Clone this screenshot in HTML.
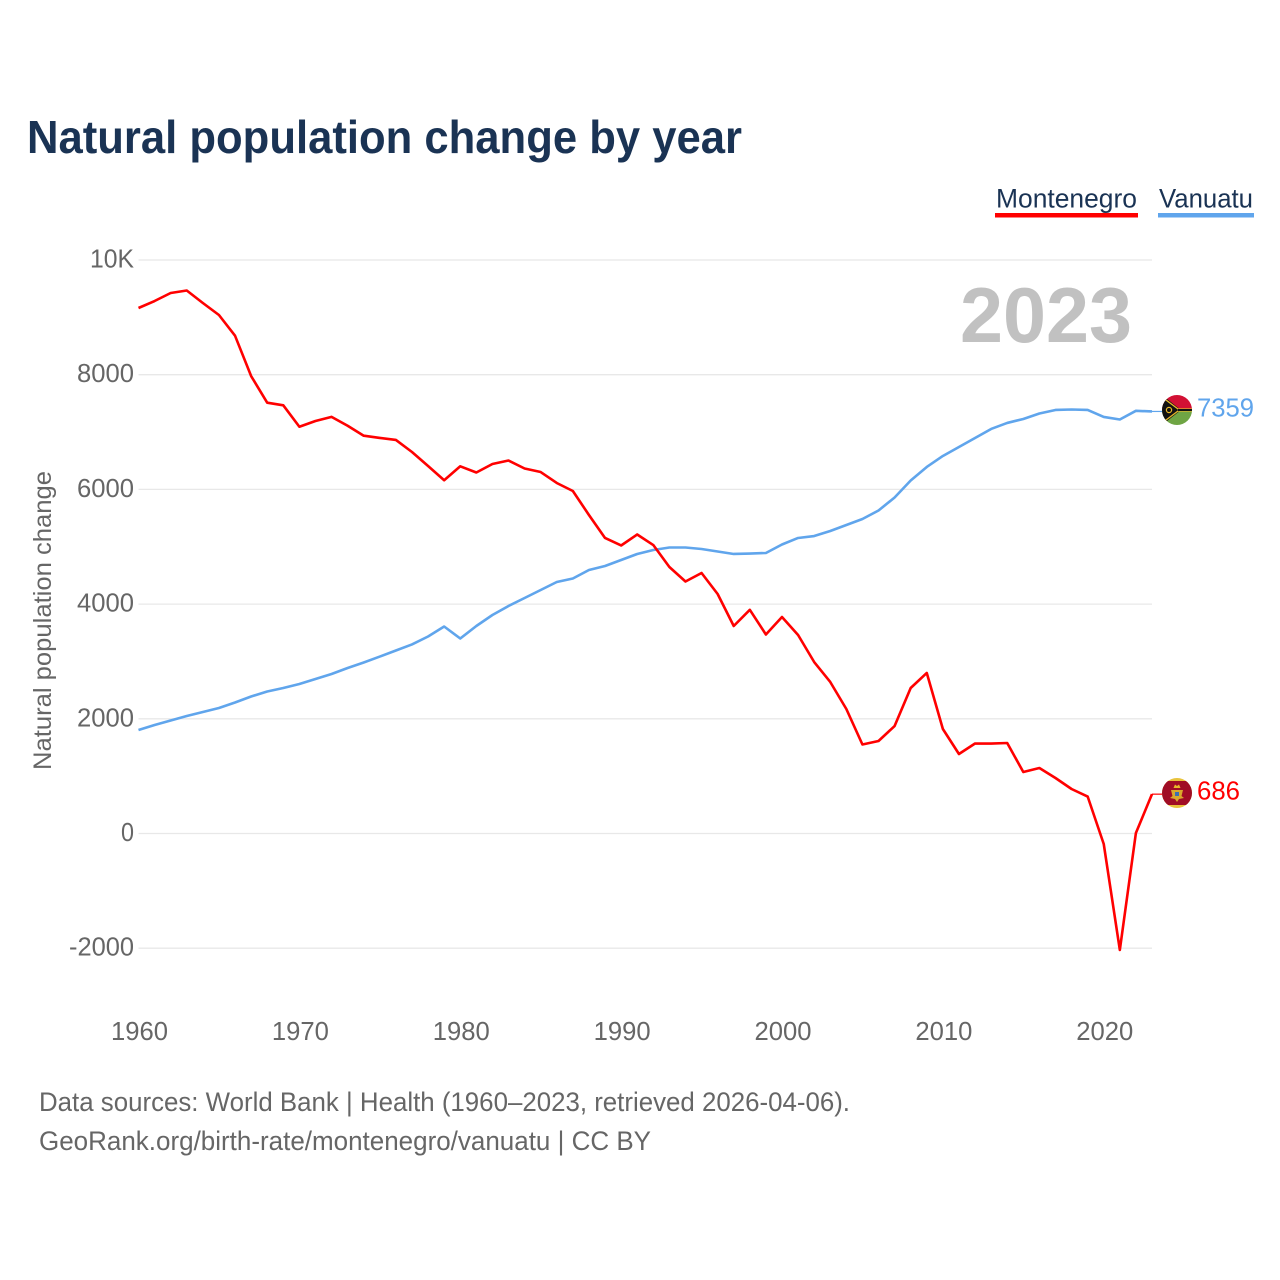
<!DOCTYPE html>
<html lang="en">
<head>
<meta charset="utf-8">
<title>Natural population change by year</title>
<style>
html,body{margin:0;padding:0;background:#fff;}
svg{display:block;}
text{font-family:"Liberation Sans",sans-serif;}
</style>
</head>
<body>
<svg id="chart" xmlns="http://www.w3.org/2000/svg" width="1280" height="1280" viewBox="0 0 1280 1280">
  <rect width="1280" height="1280" fill="#fff"/>
  <text x="27" y="153" font-size="46" font-weight="700" fill="#1a3354" textLength="715" lengthAdjust="spacingAndGlyphs">Natural population change by year</text>

  <g>
    <text x="996" y="207.5" font-size="27" fill="#1a3354" textLength="141" lengthAdjust="spacingAndGlyphs">Montenegro</text>
    <rect x="995" y="213" width="143" height="4.5" fill="#ff0000"/>
    <text x="1159" y="207.5" font-size="27" fill="#1a3354" textLength="94" lengthAdjust="spacingAndGlyphs">Vanuatu</text>
    <rect x="1158" y="213" width="96" height="4.5" fill="#60a5ec"/>
  </g>

  <g id="grid"></g>
  <g id="yticks"></g>
  <g id="xticks"></g>

  <text transform="translate(51,620.5) rotate(-90)" text-anchor="middle" font-size="25" fill="#666" textLength="299" lengthAdjust="spacingAndGlyphs">Natural population change</text>
  <text x="960" y="342" font-size="78" font-weight="700" fill="#c1c1c1" textLength="172" lengthAdjust="spacingAndGlyphs">2023</text>

  <g id="series"></g>

  <defs>
    <clipPath id="flagClipV"><circle cx="1177" cy="410" r="15"/></clipPath>
    <clipPath id="flagClipM"><circle cx="1177" cy="793" r="15"/></clipPath>
  </defs>

  <g clip-path="url(#flagClipV)">
    <rect x="1162" y="395" width="30" height="15" fill="#d21034"/>
    <rect x="1162" y="410" width="30" height="15" fill="#6fa544"/>
    <path d="M1162 395 L1181 410 L1162 425 Z" fill="#111"/>
    <path d="M1162 397 L1178 409 L1192 409 M1162 423 L1178 411 L1192 411" fill="none" stroke="#e8b92a" stroke-width="1.3"/>
    <rect x="1178" y="409" width="14" height="2" fill="#111"/>
    <circle cx="1169" cy="410" r="2.6" fill="none" stroke="#e8b92a" stroke-width="1.2"/>
  </g>

  <g clip-path="url(#flagClipM)">
    <rect x="1162" y="778" width="30" height="30" fill="#e8c33c"/>
    <rect x="1162" y="781" width="30" height="24" fill="#a00d25"/>
    <path d="M1173.5 788 L1175 784.5 L1177 786 L1179 784.5 L1180.5 788 Z" fill="#e8b92a"/>
    <path d="M1171 790 L1183 790 L1181.5 796 L1184 798 L1179 799 L1177 802 L1175 799 L1170 798 L1172.5 796 Z" fill="#d9a92c"/>
    <rect x="1175" y="792" width="4" height="4" fill="#3d6fb0"/>
  </g>

  <text id="endLabelV" x="1197" y="416.5" font-size="26" fill="#60a5ec" textLength="57" lengthAdjust="spacingAndGlyphs"></text>
  <text id="endLabelM" x="1197" y="799.5" font-size="26" fill="#ff0000" textLength="43" lengthAdjust="spacingAndGlyphs"></text>

  <text x="39" y="1111" font-size="27" fill="#666" textLength="811" lengthAdjust="spacingAndGlyphs">Data sources: World Bank | Health (1960–2023, retrieved 2026-04-06).</text>
  <text x="39" y="1150" font-size="27" fill="#666" textLength="612" lengthAdjust="spacingAndGlyphs">GeoRank.org/birth-rate/montenegro/vanuatu | CC BY</text>
</svg>

<script>
const firstYear = 1960;
const xTickYears = [1960, 1970, 1980, 1990, 2000, 2010, 2020];
const yTickValues = [-2000, 0, 2000, 4000, 6000, 8000, 10000];
const yTickLabels = ["-2000", "0", "2000", "4000", "6000", "8000", "10K"];
const montenegroValues = [
  9163, 9285, 9425, 9468, 9250, 9041, 8680, 7977, 7512, 7466,
  7093, 7193, 7265, 7110, 6936, 6897, 6862, 6652, 6408, 6159,
  6403, 6295, 6443, 6504, 6364, 6303, 6112, 5972, 5554, 5153,
  5022, 5214, 5030, 4647, 4394, 4542, 4176, 3618, 3900, 3470,
  3775, 3461, 2990, 2642, 2171, 1552, 1613, 1874, 2537, 2799,
  1822, 1386, 1569, 1569, 1578, 1072, 1142, 968, 776, 645,
  -183, -2031, 9, 686
];
const vanuatuValues = [
  1805, 1892, 1970, 2049, 2119, 2188, 2284, 2389, 2476, 2537,
  2607, 2694, 2781, 2886, 2982, 3085, 3191, 3296, 3435, 3609,
  3400, 3618, 3810, 3967, 4106, 4246, 4385, 4446, 4595, 4664,
  4769, 4874, 4943, 4987, 4987, 4961, 4917, 4874, 4882, 4891,
  5039, 5153, 5187, 5275, 5379, 5484, 5632, 5859, 6155, 6391,
  6583, 6739, 6897, 7054, 7159, 7228, 7323, 7385, 7393, 7385,
  7263, 7219, 7370, 7359
];

const NS = "http://www.w3.org/2000/svg";
const plotLeft = 138.5, plotRight = 1152;
const xScale = function (year) {
  return plotLeft + (year - 1960) * (plotRight - plotLeft) / 63;
};
const yScale = function (value) {
  return 833.5 - value * 0.05735;
};
const make = function (tag, attrs, parent) {
  const el = document.createElementNS(NS, tag);
  Object.keys(attrs).forEach(function (k) { el.setAttribute(k, attrs[k]); });
  parent.appendChild(el);
  return el;
};

const grid = document.getElementById("grid");
const yticks = document.getElementById("yticks");
yTickValues.forEach(function (v, i) {
  const line = make("line", { x1: plotLeft, x2: plotRight, y1: yScale(v), y2: yScale(v), stroke: "#e8e8e8", "stroke-width": 1.3 }, grid);
  
  
  const t = make("text", { x: 134, y: yScale(v) + 7.5, "text-anchor": "end", "font-size": 26, fill: "#666" }, yticks);
  
  
  t.textContent = yTickLabels[i];
  t.setAttribute("textLength", yTickLabels[i].length === 1 ? 13 : yTickLabels[i] === "10K" ? 44 : yTickLabels[i].length === 5 ? 65 : 57);
  t.setAttribute("lengthAdjust", "spacingAndGlyphs");
});

const xticks = document.getElementById("xticks");
xTickYears.forEach(function (year) {
  const t = make("text", { x: xScale(year) + 1, y: 1040, "text-anchor": "middle", "font-size": 26, fill: "#666", textLength: 57, lengthAdjust: "spacingAndGlyphs" }, xticks);
  
  
  t.textContent = String(year);
});

const series = document.getElementById("series");
const toPoints = function (values) {
  return values.map(function (v, i) {
    return xScale(firstYear + i).toFixed(2) + "," + yScale(v).toFixed(2);
  }).join(" ");
};

const vanuatuLine = make("polyline", { points: toPoints(vanuatuValues), fill: "none", stroke: "#60a5ec", "stroke-width": 2.6, "stroke-linejoin": "round" }, series);



const montenegroLine = make("polyline", { points: toPoints(montenegroValues), fill: "none", stroke: "#ff0000", "stroke-width": 2.6, "stroke-linejoin": "round" }, series);



const lastV = vanuatuValues[vanuatuValues.length - 1];
const lastM = montenegroValues[montenegroValues.length - 1];

const vConnector = make("line", { x1: plotRight, x2: 1163, y1: yScale(lastV), y2: yScale(lastV), stroke: "#60a5ec", "stroke-width": 1.2 }, series);



const mConnector = make("line", { x1: plotRight, x2: 1163, y1: yScale(lastM), y2: yScale(lastM), stroke: "#ff0000", "stroke-width": 1.2 }, series);



document.getElementById("endLabelV").textContent = String(lastV);
document.getElementById("endLabelM").textContent = String(lastM);
</script>
</body>
</html>
